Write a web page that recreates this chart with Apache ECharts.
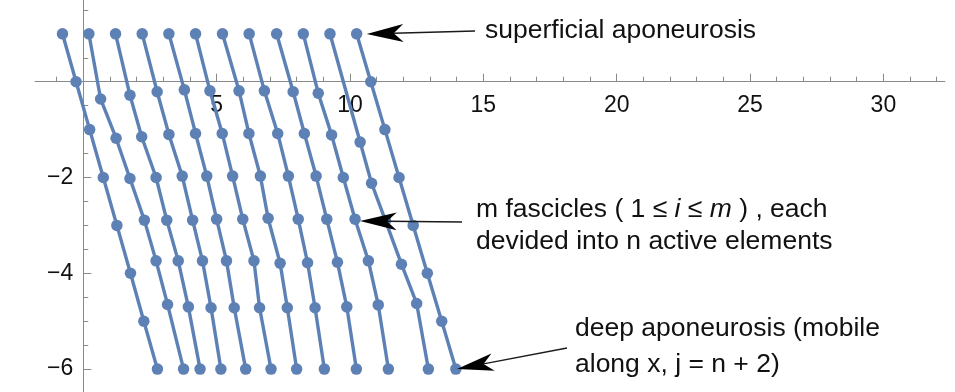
<!DOCTYPE html>
<html>
<head>
<meta charset="utf-8">
<script src="https://cdn.jsdelivr.net/npm/echarts@6/dist/echarts.min.js"></script>
<style>
  html, body { margin: 0; padding: 0; background: #ffffff; }
  #chart { width: 955px; height: 392px; }
</style>
</head>
<body>
<div id="chart"></div>
<script>
// Node positions of each fascicle, from the superficial aponeurosis (y = 1)
// down to the deep aponeurosis (y = -6).
const fascicleX = [
  [-0.78, -0.27, 0.24, 0.75, 1.26, 1.77, 2.27, 2.78],
  [0.21, 0.65, 1.23, 1.75, 2.29, 2.73, 3.16, 3.76],
  [1.21, 1.75, 2.19, 2.73, 3.13, 3.56, 3.94, 4.38],
  [2.21, 2.77, 3.21, 3.71, 4.10, 4.47, 4.79, 5.16],
  [3.21, 3.79, 4.21, 4.63, 5.00, 5.37, 5.66, 6.09],
  [4.21, 4.75, 5.21, 5.60, 5.98, 6.40, 6.61, 7.04],
  [5.22, 5.84, 6.21, 6.64, 6.93, 7.38, 7.65, 8.00],
  [6.22, 6.79, 7.29, 7.69, 8.06, 8.41, 8.69, 9.04],
  [7.25, 7.87, 8.29, 8.73, 9.13, 9.53, 9.88, 10.24],
  [8.25, 8.81, 9.31, 9.75, 10.19, 10.69, 11.06, 11.44],
  [9.25, 10.38, 10.81, 11.33, 11.93, 12.50, 12.94],
  [10.25, 10.78, 11.31, 11.84, 12.37, 12.90, 13.44, 13.97]
];
const fascicleY = [
  [1, 0, -1, -2, -3, -4, -5, -6],
  [1, -0.36, -1.18, -2.02, -2.89, -3.74, -4.65, -6],
  [1, -0.28, -1.15, -2.00, -2.89, -3.74, -4.70, -6],
  [1, -0.21, -1.10, -1.97, -2.89, -3.74, -4.72, -6],
  [1, -0.17, -1.08, -1.97, -2.87, -3.74, -4.72, -6],
  [1, -0.19, -1.08, -1.97, -2.87, -3.74, -4.72, -6],
  [1, -0.19, -1.08, -1.97, -2.85, -3.79, -4.72, -6],
  [1, -0.19, -1.08, -1.97, -2.87, -3.78, -4.72, -6],
  [1, -0.21, -1.08, -1.97, -2.87, -3.77, -4.70, -6],
  [1, -0.24, -1.11, -2.00, -2.87, -3.74, -4.66, -6],
  [1, -1.26, -2.12, -2.90, -3.81, -4.63, -6],
  [1, 0, -1, -2, -3, -4, -5, -6]
];

// Axis ticks
const xMajorTicks = [5, 10, 15, 20, 25, 30];
const xMinorTicks = [-1, 0, 1, 2, 3, 4, 6, 7, 8, 9, 11, 12, 13, 14, 16, 17, 18, 19,
  21, 22, 23, 24, 26, 27, 28, 29, 31, 32];
const yMajorTicks = [-6, -4, -2];
const yMinorTicks = [-5.5, -5, -4.5, -3.5, -3, -2.5, -1.5, -1, -0.5, 0.5, 1, 1.5];

const X_RANGE = [-1.81, 32.31];
const Y_RANGE = [-6.478, 1.706];
const GRID = { left: 35, right: 10, top: 0, bottom: 0 };
const W = 955, H = 392;

const LINE_COLOR = '#5E81B5';
const AXIS_COLOR = '#8a8a8a';
const TEXT_COLOR = '#111111';
const FONT = '"Liberation Sans", Arial, sans-serif';

const fmtNum = v => (v < 0 ? '\u2212' + Math.abs(v) : String(v));

// Pixel position of the origin inside the grid, used to put the labelled axes on it
const gridW = W - GRID.left - GRID.right;
const gridH = H - GRID.top - GRID.bottom;
const originX = GRID.left + (0 - X_RANGE[0]) / (X_RANGE[1] - X_RANGE[0]) * gridW;
const originY = GRID.top + (Y_RANGE[1] - 0) / (Y_RANGE[1] - Y_RANGE[0]) * gridH;

function valueAxis(range, ticks, opts) {
  return Object.assign({
    type: 'value',
    min: range[0],
    max: range[1],
    splitLine: { show: false },
    axisLine: { show: true, onZero: true, onZeroAxisIndex: 0, lineStyle: { color: AXIS_COLOR, width: 1 } },
    axisTick: { show: true, inside: true, length: 5, customValues: ticks, lineStyle: { color: AXIS_COLOR, width: 1 } },
    axisLabel: { show: false }
  }, opts);
}

const series = fascicleX.map((xs, i) => ({
  type: 'line',
  xAxisIndex: 0,
  yAxisIndex: 0,
  data: xs.map((x, k) => [x, fascicleY[i][k]]),
  symbol: 'circle',
  symbolSize: 11.5,
  showSymbol: true,
  lineStyle: { color: LINE_COLOR, width: 3.4 },
  itemStyle: { color: LINE_COLOR },
  emphasis: { disabled: true },
  animation: false,
  z: 3
}));

// Arrow annotation: shaft plus a notched head ending at the tip
function arrow(tail, tip) {
  const dx = tail[0] - tip[0], dy = tail[1] - tip[1];
  const len = Math.hypot(dx, dy);
  const ux = dx / len, uy = dy / len;
  const px = -uy, py = ux;
  const L = 36.7, HW = 8.9, N = 27;
  const back = [tip[0] + ux * L, tip[1] + uy * L];
  return [
    { type: 'line', shape: { x1: tail[0], y1: tail[1], x2: tip[0] + ux * N, y2: tip[1] + uy * N },
      style: { stroke: '#1a1a1a', lineWidth: 1.3 }, z: 10 },
    { type: 'polygon', shape: { points: [
        tip,
        [back[0] + px * HW, back[1] + py * HW],
        [tip[0] + ux * N, tip[1] + uy * N],
        [back[0] - px * HW, back[1] - py * HW]
      ] }, style: { fill: '#000000' }, z: 10 }
  ];
}

const TEXT_SIZE = 26.5;
function label(text, x, y, extra) {
  return {
    type: 'text', z: 10,
    style: Object.assign({ text: text, x: x, y: y, fill: TEXT_COLOR,
      font: TEXT_SIZE + 'px ' + FONT, verticalAlign: 'middle', align: 'left' }, extra || {})
  };
}

const chart = echarts.init(document.getElementById('chart'), null, { renderer: 'canvas' });
chart.setOption({
  animation: false,
  backgroundColor: '#ffffff',
  grid: Object.assign({ containLabel: false, outerBoundsMode: 'none' }, GRID),
  xAxis: [
    valueAxis(X_RANGE, xMinorTicks, { position: 'bottom' }),
    valueAxis(X_RANGE, xMajorTicks, {
      position: 'bottom',
      offset: originY - (H - GRID.bottom),
      axisLine: { show: false, onZero: false },
      axisTick: { show: true, inside: true, length: 8, customValues: xMajorTicks,
        lineStyle: { color: AXIS_COLOR, width: 1 } },
      axisLabel: { show: true, customValues: xMajorTicks, margin: 12, color: TEXT_COLOR,
        fontSize: 23, fontFamily: FONT, formatter: fmtNum }
    })
  ],
  yAxis: [
    valueAxis(Y_RANGE, yMinorTicks, { position: 'left' }),
    valueAxis(Y_RANGE, yMajorTicks, {
      position: 'left',
      offset: GRID.left - originX,
      axisLine: { show: false, onZero: false },
      axisTick: { show: true, inside: true, length: 8, customValues: yMajorTicks,
        lineStyle: { color: AXIS_COLOR, width: 1 } },
      axisLabel: { show: true, customValues: yMajorTicks, margin: 10, color: TEXT_COLOR,
        fontSize: 23, fontFamily: FONT, formatter: fmtNum }
    })
  ],
  series: series,
  graphic: [
    ...arrow([475, 31], [366.7, 34]),
    ...arrow([462, 222], [360, 221]),
    ...arrow([567, 348], [457, 369]),
    label('superficial aponeurosis', 485, 31),
    label('{a|m fascicles (}{a| 1 \u2264 }{i|i}{a| \u2264 }{i|m}{a| ) , each}', 476, 210, {
      rich: {
        a: { font: TEXT_SIZE + 'px ' + FONT, fill: TEXT_COLOR },
        i: { font: 'italic ' + TEXT_SIZE + 'px ' + FONT, fill: TEXT_COLOR }
      }
    }),
    label('devided into n active elements', 476, 242),
    label('deep aponeurosis (mobile', 575, 329),
    label('along x, j = n + 2)', 575, 365)
  ]
});
</script>
</body>
</html>
